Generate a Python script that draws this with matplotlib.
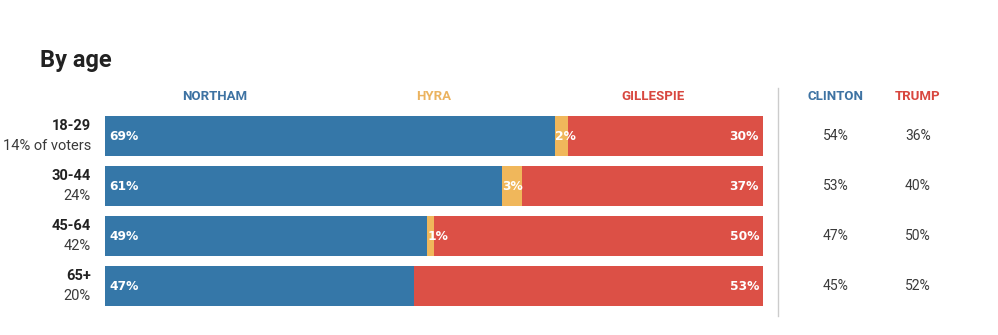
import matplotlib
matplotlib.use("Agg")
import matplotlib.pyplot as plt
from matplotlib.transforms import blended_transform_factory
import numpy as np

plt.rcParams['font.family'] = ['Roboto', 'DejaVu Sans']

groups = ["18-29", "30-44", "45-64", "65+"]
shares = ["14% of voters", "24%", "42%", "20%"]
northam = [69, 61, 49, 47]
hyra = [2, 3, 1, 0]
gillespie = [30, 37, 50, 53]
clinton = [54, 53, 47, 45]
trump = [36, 40, 50, 52]
candidates = ["NORTHAM", "HYRA", "GILLESPIE"]

BLUE = "#3577A8"
YELLOW = "#F0B75B"
RED = "#DC5046"
HBLUE = "#3E73A3"
HYEL = "#EBB35F"
HRED = "#D8473F"
DARK = "#222222"

W, H = 998, 335
fig = plt.figure(figsize=(W/100, H/100), dpi=100)
fig.patch.set_facecolor("white")

def fx(px):
    return px / W

def fy(py):
    return 1 - py / H

ax = fig.add_axes([fx(105), fy(311), fx(763) - fx(105), (311 - 111) / H])
ax.set_xlim(0, 100)
ax.set_ylim(3.5, -0.5)
ax.axis("off")

n = np.array(northam, float)
h = np.array(hyra, float)
g = np.array(gillespie, float)
tot = n + h + g
nn, hh, gg = n / tot * 100, h / tot * 100, g / tot * 100
y = np.arange(len(groups))

ax.barh(y, nn, height=0.8, color=BLUE, linewidth=0)
ax.barh(y, hh, left=nn, height=0.8, color=YELLOW, linewidth=0)
ax.barh(y, gg, left=nn + hh, height=0.8, color=RED, linewidth=0)

lab_kw = dict(color="white", fontsize=8.8, fontweight="bold", va="center",
              family=["DejaVu Sans"])
for i in range(len(groups)):
    ax.text(0.6, y[i] + 0.02, f"{northam[i]}%", ha="left", **lab_kw)
    if hyra[i] > 0:
        ax.text(nn[i], y[i] + 0.02, f"{hyra[i]}%", ha="left", **lab_kw)
    ax.text(99.4, y[i] + 0.02, f"{gillespie[i]}%", ha="right", **lab_kw)

tr = blended_transform_factory(fig.transFigure, ax.transData)
for i in range(len(groups)):
    ax.text(fx(91), y[i] - 0.2, groups[i], transform=tr, ha="right", va="center",
            fontsize=10.5, fontweight="bold", color=DARK)
    ax.text(fx(91), y[i] + 0.2, shares[i], transform=tr, ha="right", va="center",
            fontsize=10.5, color="#3a3a3a")
    ax.text(fx(836), y[i], f"{clinton[i]}%", transform=tr, ha="center", va="center",
            fontsize=10, color="#3a3a3a")
    ax.text(fx(918), y[i], f"{trump[i]}%", transform=tr, ha="center", va="center",
            fontsize=10, color="#3a3a3a")

# headers
hcols = [HBLUE, HYEL, HRED]
for k, c in enumerate(candidates):
    ax.text((k + 0.5) * 100 / 3, -0.8, c, ha="center", va="center",
            fontsize=9.5, fontweight="bold", color=hcols[k])
ax.text(fx(836), -0.8, "CLINTON", transform=tr, ha="center", va="center",
        fontsize=9.5, fontweight="bold", color=HBLUE)
ax.text(fx(918), -0.8, "TRUMP", transform=tr, ha="center", va="center",
        fontsize=9.5, fontweight="bold", color=HRED)

fig.add_artist(plt.Line2D([fx(778), fx(778)], [fy(88), fy(316)], color="#cccccc", lw=1))

fig.text(fx(40), fy(60), "By age", ha="left", va="center", fontsize=17,
         fontweight="bold", color=DARK)

fig.savefig("out.png", dpi=100)
